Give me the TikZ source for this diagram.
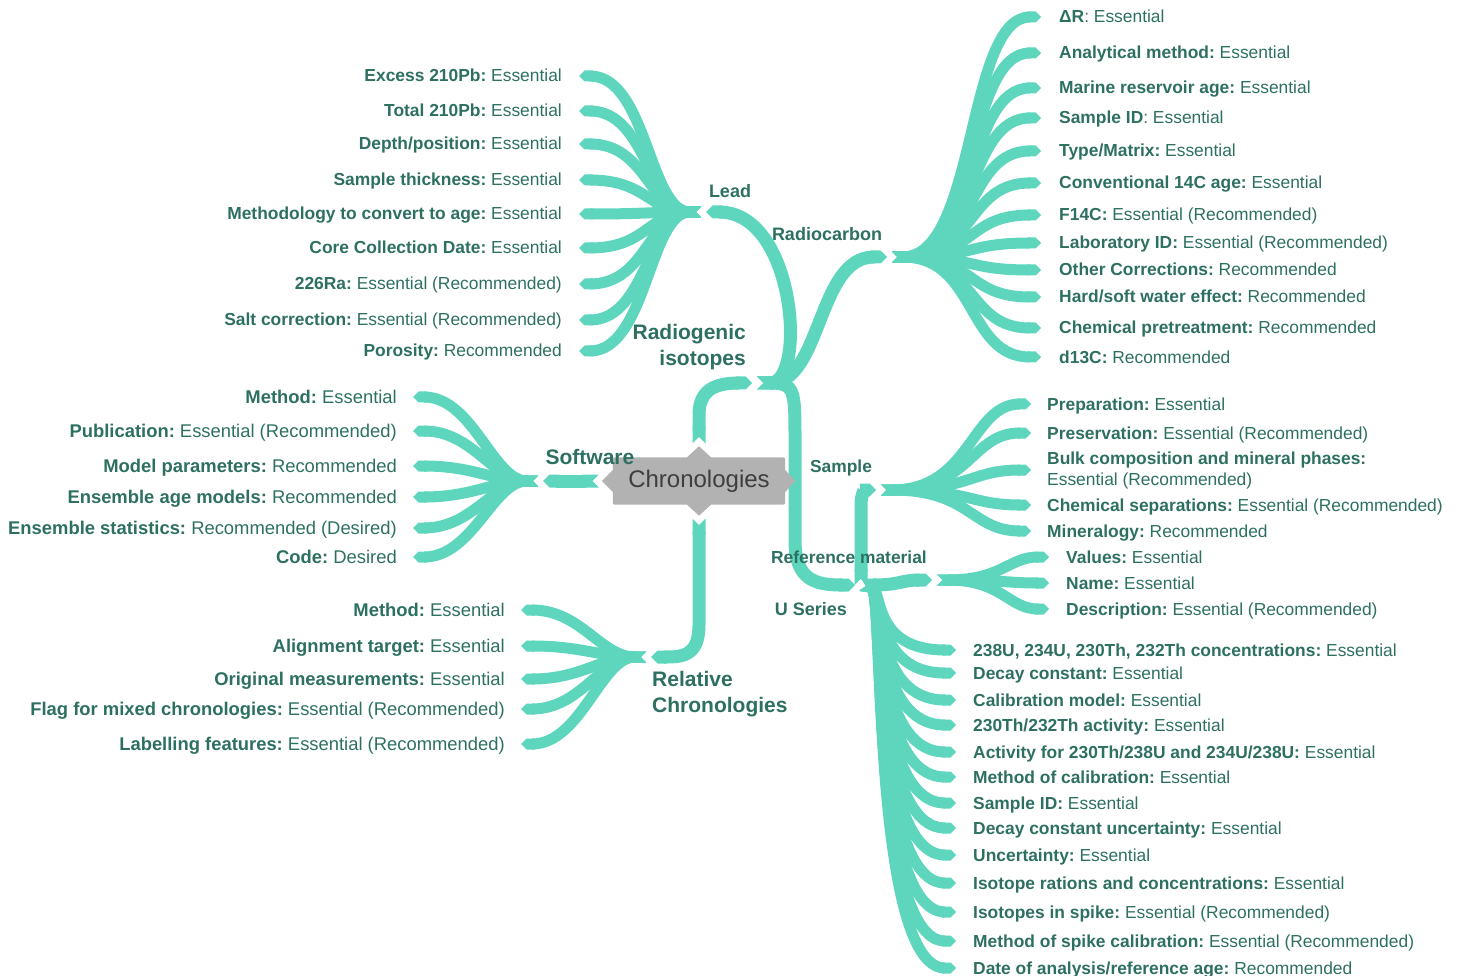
\documentclass[tikz,border=0pt]{standalone}
\usepackage{fontspec}
\setmainfont{Liberation Sans}
\usetikzlibrary{arrows.meta}

\definecolor{ribbon}{HTML}{5ED6BD}
\definecolor{leaftxt}{HTML}{2D7062}
\definecolor{boxgray}{HTML}{B2B2B2}
\definecolor{boxtxt}{HTML}{3E3E3E}

\pgfdeclarelayer{back}
\pgfdeclarelayer{box}
\pgfsetlayers{back,box,main}

\tikzset{
  ribbon/.style = {draw=ribbon, line width=13pt, {Triangle Cap[reversed]}-{Triangle Cap}},
  leaf/.style = {ribbon, line width=11pt},
  leaftext/.style = {text=leaftxt, font=\fontsize{17.4}{21}\selectfont, inner sep=0pt},
  bigleaftext/.style = {leaftext, font=\fontsize{18.4}{22}\selectfont},
  branchtext/.style = {text=leaftxt, font=\fontsize{18}{21}\selectfont\bfseries, inner sep=0pt},
  bigtext/.style = {text=leaftxt, font=\fontsize{21}{26}\selectfont\bfseries, inner sep=0pt},
}

\begin{document}
\begin{tikzpicture}[x=1pt, y=-1pt]
  \useasboundingbox (0,0) rectangle (1460,976);

  \node[minimum width=172pt, minimum height=47pt, text=boxtxt,
        font=\fontsize{24}{28}\selectfont] (chrono) at (699,481) {Chronologies};
  \begin{pgfonlayer}{box}
  \fill[boxgray, rounded corners=2pt] (chrono.north west) rectangle (chrono.south east);
  \fill[boxgray] ([xshift=-12pt]chrono.north) -- ([yshift=11pt]chrono.north) -- ([xshift=12pt]chrono.north)
                 -- ([xshift=12pt]chrono.south) -- ([yshift=-11pt]chrono.south) -- ([xshift=-12pt]chrono.south) -- cycle;
  \fill[boxgray] ([yshift=11pt]chrono.west) -- ([xshift=-11pt]chrono.west) -- ([yshift=-11pt]chrono.west)
                 -- ([yshift=-11pt]chrono.east) -- ([xshift=10pt]chrono.east) -- ([yshift=11pt]chrono.east) -- cycle;
  \end{pgfonlayer}

  \coordinate (radiogenic) at (752,383);
  \coordinate (lead) at (706,212);
  \coordinate (radiocarbon) at (887,257);
  \coordinate (useries) at (855,585);
  \coordinate (sample) at (876,490);
  \coordinate (refmat) at (932,580);
  \coordinate (software) at (543,481);
  \coordinate (relative) at (651,657);

  \begin{pgfonlayer}{back}
  \draw[ribbon] ([yshift=14pt]chrono.north) -- (699,415) .. controls (699,390) and (715,383) .. (radiogenic);
  \draw[ribbon] ([xshift=-14pt]chrono.west) -- (software);
  \draw[ribbon] ([yshift=-14pt]chrono.south) -- (699,625) .. controls +(0,32) and +(30,0) .. (relative);
  \draw[ribbon] ([xshift=5pt]radiogenic) .. controls +(50,0) and +(90,0) .. (lead);
  \draw[ribbon] ([xshift=5pt]radiogenic) .. controls +(65,0) and +(-70,0) .. (radiocarbon);
  \draw[ribbon] ([xshift=5pt]radiogenic) .. controls +(38,0) and +(0,-50) .. (795,440) -- (795,540)
                .. controls +(0,40) and +(-40,0) .. (useries);
  \draw[ribbon] ([xshift=6pt]useries) -- (861,505) .. controls +(0,-13) and +(-10,0) .. (sample);
  \draw[ribbon] ([xshift=5pt]useries) .. controls +(40,0) and +(-30,0) .. (refmat);
  \end{pgfonlayer}

  \foreach \y/\k/\v [count=\i] in {
      76/{Excess 210Pb:}/Essential, 111/{Total 210Pb:}/Essential,
      144/{Depth/position:}/Essential, 180/{Sample thickness:}/Essential,
      214/{Methodology to convert to age:}/Essential, 248/{Core Collection Date:}/Essential,
      284/{226Ra:}/{Essential (Recommended)}, 320/{Salt correction:}/{Essential (Recommended)},
      351/{Porosity:}/Recommended} {
    \coordinate (lead\i) at (579,\y);
    \begin{pgfonlayer}{back}
      \draw[leaf] ([xshift=-5pt]lead) .. controls +(-52,0) and +(68,0) .. (lead\i);
    \end{pgfonlayer}
    \node[leaftext, anchor=base east] (lead\i t) at ([xshift=-17pt, yshift=-6pt]lead\i) {\textbf{\k}\ \v};
  }

  \foreach \y/\k/\v [count=\i] in {
      17/{ΔR\mdseries:}/Essential, 53/{Analytical method:}/Essential,
      88/{Marine reservoir age:}/Essential, 118/{Sample ID\mdseries:}/Essential,
      151/{Type/Matrix:}/Essential, 183/{Conventional 14C age:}/Essential,
      215/{F14C:}/{Essential (Recommended)}, 243/{Laboratory ID:}/{Essential (Recommended)},
      270/{Other Corrections:}/Recommended, 297/{Hard/soft water effect:}/Recommended,
      328/{Chemical pretreatment:}/Recommended, 357/{d13C:}/Recommended} {
    \coordinate (rc\i) at (1041,\y);
    \begin{pgfonlayer}{back}
      \draw[leaf] ([xshift=5pt]radiocarbon) .. controls +(85,0) and +(-75,0) .. (rc\i);
    \end{pgfonlayer}
    \node[leaftext, anchor=base west] (rc\i t) at ([xshift=18pt, yshift=-6pt]rc\i) {\textbf{\k}\ \v};
  }

  \foreach \y/\k/\v [count=\i] in {
      397/{Method:}/Essential, 431/{Publication:}/{Essential (Recommended)},
      466/{Model parameters:}/Recommended, 497/{Ensemble age models:}/Recommended,
      528/{Ensemble statistics:}/{Recommended (Desired)}, 557/{Code:}/Desired} {
    \coordinate (sw\i) at (413,\y);
    \begin{pgfonlayer}{back}
      \draw[leaf] ([xshift=-5pt]software) .. controls +(-45,0) and +(60,0) .. (sw\i);
    \end{pgfonlayer}
    \node[bigleaftext, anchor=base east] (sw\i t) at ([xshift=-16pt, yshift=-6pt]sw\i) {\textbf{\k}\ \v};
  }

  \foreach \y/\k/\v [count=\i] in {
      610/{Method:}/Essential, 646/{Alignment target:}/Essential,
      679/{Original measurements:}/Essential, 709/{Flag for mixed chronologies:}/{Essential (Recommended)},
      744/{Labelling features:}/{Essential (Recommended)}} {
    \coordinate (rel\i) at (521,\y);
    \begin{pgfonlayer}{back}
      \draw[leaf] ([xshift=-5pt]relative) .. controls +(-45,0) and +(60,0) .. (rel\i);
    \end{pgfonlayer}
    \node[bigleaftext, anchor=base east] (rel\i t) at ([xshift=-16pt, yshift=-6pt]rel\i) {\textbf{\k}\ \v};
  }

  \foreach \y/\k/\v [count=\i] in {
      404/{Preparation:}/Essential, 433/{Preservation:}/{Essential (Recommended)},
      505/{Chemical separations:}/{Essential (Recommended)}, 531/{Mineralogy:}/Recommended} {
    \coordinate (sa\i) at (1031,\y);
    \begin{pgfonlayer}{back}
      \draw[leaf] ([xshift=5pt]sample) .. controls +(90,0) and +(-60,0) .. (sa\i);
    \end{pgfonlayer}
    \node[leaftext, anchor=base west] (sa\i t) at ([xshift=16pt, yshift=-6pt]sa\i) {\textbf{\k}\ \v};
  }
  \coordinate (bulk) at (1031,470);
  \begin{pgfonlayer}{back}
    \draw[leaf] ([xshift=5pt]sample) .. controls +(90,0) and +(-60,0) .. (bulk);
  \end{pgfonlayer}
  \node[leaftext, anchor=west, align=left] (bulkt) at ([xshift=16pt]bulk)
    {\textbf{Bulk composition and mineral phases:}\\Essential (Recommended)};

  \foreach \y/\k/\v [count=\i] in {
      557/{Values:}/Essential, 583/{Name:}/Essential,
      609/{Description:}/{Essential (Recommended)}} {
    \coordinate (rm\i) at (1049,\y);
    \begin{pgfonlayer}{back}
      \draw[leaf] ([xshift=5pt]refmat) .. controls +(65,0) and +(-40,0) .. (rm\i);
    \end{pgfonlayer}
    \node[leaftext, anchor=base west] (rm\i t) at ([xshift=17pt, yshift=-6pt]rm\i) {\textbf{\k}\ \v};
  }

  \foreach \y/\k/\v [count=\i] in {
      650/{238U, 234U, 230Th, 232Th concentrations:}/Essential, 673/{Decay constant:}/Essential,
      700/{Calibration model:}/Essential, 725/{230Th/232Th activity:}/Essential,
      752/{Activity for 230Th/238U and 234U/238U:}/Essential, 777/{Method of calibration:}/Essential,
      803/{Sample ID:}/Essential, 828/{Decay constant uncertainty:}/Essential,
      855/{Uncertainty:}/Essential, 883/{Isotope rations and concentrations:}/Essential,
      912/{Isotopes in spike:}/{Essential (Recommended)}, 941/{Method of spike calibration:}/{Essential (Recommended)},
      968/{Date of analysis/reference age:}/Recommended} {
    \coordinate (us\i) at (956,\y);
    \begin{pgfonlayer}{back}
      \draw[leaf] ([xshift=6pt]useries) .. controls +(22,5) and +(-84,0) .. (us\i);
    \end{pgfonlayer}
    \node[leaftext, anchor=base west] (us\i t) at ([xshift=17pt, yshift=-6pt]us\i) {\textbf{\k}\ \v};
  }

  \node[branchtext] (leadl) at (730,191) {Lead};
  \node[branchtext] (radiocarbonl) at (827,234) {Radiocarbon};
  \node[bigtext, align=right, anchor=east] (radiogenicl) at (746,347) {Radiogenic\\isotopes};
  \node[bigtext] (softwarel) at (590,457) {Software};
  \node[bigtext, align=left, anchor=west] (relativel) at (652,694) {Relative\\Chronologies};
  \node[branchtext, font=\fontsize{17.4}{21}\selectfont\bfseries] (samplel) at (841,468) {Sample};
  \node[branchtext, font=\fontsize{17.4}{21}\selectfont\bfseries] (refmatl) at (849,557) {Reference material};
  \node[branchtext] (seriesl) at (811,609) {U Series};
\end{tikzpicture}
\end{document}
